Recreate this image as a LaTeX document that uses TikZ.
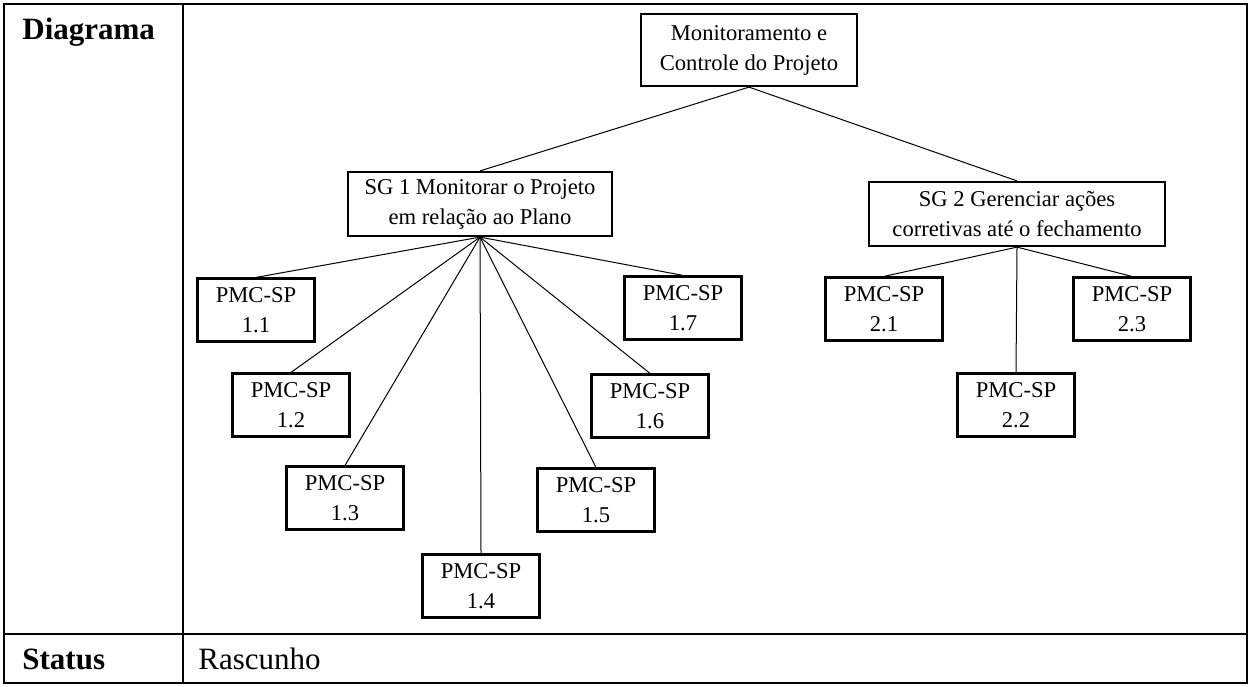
\documentclass[tikz,border=0pt]{standalone}
\usepackage{fontspec}
\setmainfont{Liberation Serif}
\usetikzlibrary{positioning}

\begin{document}
\begin{tikzpicture}[x=0.5pt, y=-0.5pt, font=\fontsize{11.3}{15}\selectfont,
    box/.style={draw, line width=1.1pt, align=center, inner sep=0pt},
    spbox/.style={box, minimum width=58.5pt, minimum height=31.5pt},
    link/.style={line width=0.5pt},
    cell/.style={anchor=west, inner sep=0pt, font=\fontsize{15.5}{18}\selectfont}]
    \useasboundingbox (0,0) rectangle (1251,686);
    % table frame
    \draw[line width=1pt] (4,4) rectangle (1247,683);
    \draw[line width=1pt] (183,4) -- (183,683);
    \draw[line width=1pt] (4,634) -- (1247,634);
    \node[cell, font=\fontsize{15.5}{18}\selectfont\bfseries] (diag) at (22,32) {Diagrama};
    \node[cell, font=\fontsize{15.5}{18}\selectfont\bfseries] (status) at (22,659) {Status};
    \node[cell] (rasc) at (198,659) {Rascunho};
    % tree
    \node[box, minimum width=108pt, minimum height=36pt] (pmc) at (749,50) {Monitoramento e\\ Controle do Projeto};
    \node[box, minimum width=132pt, minimum height=32pt] (sg1) at (480,204) {SG 1 Monitorar o Projeto\\ em relação ao Plano};
    \node[box, minimum width=148pt, minimum height=32pt] (sg2) at (1017,214) {SG 2 Gerenciar ações\\ corretivas até o fechamento};
    \foreach \i/\x/\y in {1/256/310, 2/291/405, 3/345/498, 4/481/586, 5/596/500, 6/650/406, 7/683/308} {
      \node[spbox] (sp1\i) at (\x,\y) {PMC-SP\\ 1.\i};
      \draw[link] (sg1.south) -- (sp1\i.north);
    }
    \foreach \i/\x/\y in {1/884/309, 2/1016/405, 3/1132/309} {
      \node[spbox] (sp2\i) at (\x,\y) {PMC-SP\\ 2.\i};
      \draw[link] (sg2.south) -- (sp2\i.north);
    }
    \draw[link] (pmc.south) -- (sg1.north);
    \draw[link] (pmc.south) -- (sg2.north);
  \end{tikzpicture}
\end{document}
